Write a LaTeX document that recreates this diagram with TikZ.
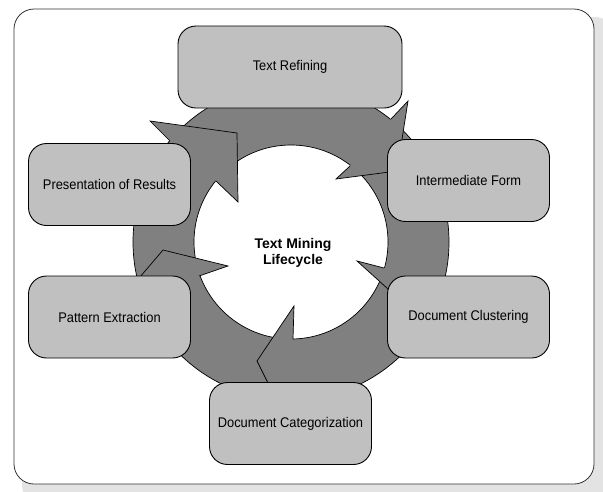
\documentclass[tikz,border=0pt]{standalone}
\usepackage{fontspec}
\setmainfont{Liberation Sans}
\newfontfamily\stagefont[FakeStretch=0.92]{Liberation Sans}
\definecolor{ringgrey}{HTML}{808080}
\definecolor{boxgrey}{HTML}{C0C0C0}
\definecolor{shadowgrey}{HTML}{E3E3E3}

\begin{document}
\begin{tikzpicture}[x=1pt,y=-1pt,
    stage/.style={draw=black, line width=0.9pt, fill=boxgrey, rounded corners=18pt,
      minimum width=162pt, minimum height=82pt, inner sep=0pt,
      font=\stagefont\fontsize{14}{16}\selectfont},
    ring/.style={draw=black, line width=0.7pt, line join=miter}]
  \useasboundingbox (0,0) rectangle (603,491);
  % frame with its shadow
  \begin{scope}
    \clip (0,0) rectangle (603,491);
    \fill[shadowgrey, rounded corners=20pt] (22,17) rectangle (615,505);
  \end{scope}
  \draw[fill=white, draw=black!80, line width=0.8pt, rounded corners=20pt] (14,9) rectangle (594,484);
  % ring
  \coordinate (c) at (291,242);
  \fill[ringgrey, even odd rule] (c) circle[radius=158pt] (c) circle[radius=97pt];
  \draw[ring] (c) circle[radius=158pt] (c) circle[radius=97pt];
  % arrow heads
  \fill[ringgrey] (170,141) -- (150,121) -- (237,133) -- (238,202) -- (216,181) -- cycle;
  \draw[ring] (170,141) -- (150,121) -- (237,133) -- (238,202) -- (216,181);
  \fill[ringgrey] (391,119) -- (408,101) -- (397,171) -- (336,179) -- (350,166) -- cycle;
  \draw[ring] (391,119) -- (408,101) -- (397,171) -- (336,179) -- (350,166);
  \fill[ringgrey] (443.5,283.4) -- (470,288) -- (403.5,303) -- (357,261) -- (384,268) -- cycle;
  \draw[ring] (443.5,283.4) -- (470,288) -- (403.5,303) -- (357,261) -- (384,268);
  \fill[ringgrey] (290.5,400) -- (289,425) -- (257,361) -- (294,306) -- (293,339) -- cycle;
  \draw[ring] (290.5,400) -- (289,425) -- (257,361) -- (294,306) -- (293,339);
  \fill[ringgrey] (142.4,295.6) -- (116.5,304.5) -- (163,250) -- (228,266) -- (199,276) -- cycle;
  \draw[ring] (142.4,295.6) -- (116.5,304.5) -- (163,250) -- (228,266) -- (199,276);
  % stages
  \node[stage, minimum width=224pt] (refine) at (290,67) {Text Refining};
  \node[stage] (inter) at (468.5,180.5) {Intermediate Form};
  \node[stage] (cluster) at (468.5,317) {Document Clustering};
  \node[stage] (categ) at (290.5,423.5) {Document Categorization};
  \node[stage] (pattern) at (109.5,317) {Pattern Extraction};
  \node[stage] (present) at (109.5,184.5) {Presentation of Results};
  \node[font=\fontsize{14}{16}\selectfont\bfseries, align=center] (title) at (293,253) {Text Mining\\Lifecycle};
\end{tikzpicture}
\end{document}
